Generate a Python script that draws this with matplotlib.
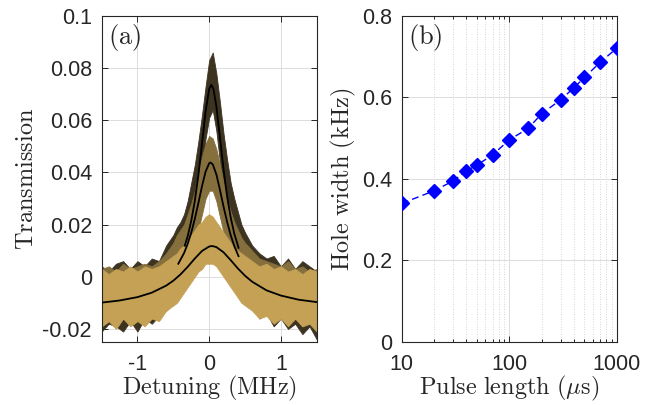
import matplotlib
matplotlib.use("Agg")
import matplotlib.pyplot as plt
from matplotlib.ticker import LogLocator, NullFormatter

plt.rcParams['font.family'] = ['Liberation Sans', 'DejaVu Sans']
plt.rcParams['mathtext.fontset'] = 'cm'

# ---- panel (a): transmission vs detuning ----
# envelope of each noisy trace, common detuning grid
det = [-1.5, -1.4, -1.3, -1.2, -1.1, -1.0, -0.9, -0.8, -0.7, -0.6, -0.5,
       -0.45, -0.4, -0.35, -0.3, -0.25, -0.2, -0.15, -0.1, -0.05, 0.0,
       0.05, 0.1, 0.15, 0.2, 0.25, 0.3, 0.35, 0.4, 0.45, 0.5,
       0.6, 0.7, 0.8, 0.9, 1.0, 1.1, 1.2, 1.3, 1.4, 1.5]

dark_hi = [0.004, 0.002, 0.005, 0.006, 0.003, 0.006, 0.004, 0.007, 0.006, 0.012, 0.016,
           0.019, 0.021, 0.024, 0.029, 0.036, 0.043, 0.052, 0.062, 0.073, 0.083,
           0.086, 0.078, 0.067, 0.055, 0.045, 0.036, 0.030, 0.025, 0.020, 0.017,
           0.012, 0.009, 0.007, 0.008, 0.004, 0.007, 0.003, 0.006, 0.004, 0.002]
dark_lo = [-0.021, -0.018, -0.019, -0.021, -0.017, -0.021, -0.016, -0.018, -0.015, -0.013, -0.010,
           -0.008, -0.005, 0.000, 0.006, 0.012, 0.019, 0.028, 0.040, 0.053, 0.061,
           0.064, 0.056, 0.044, 0.032, 0.022, 0.014, 0.008, 0.002, -0.003, -0.007,
           -0.011, -0.016, -0.014, -0.019, -0.016, -0.020, -0.018, -0.022, -0.019, -0.024]

mid_hi = [0.003, 0.004, 0.002, 0.005, 0.003, 0.004, 0.005, 0.004, 0.006, 0.009, 0.013,
          0.016, 0.018, 0.020, 0.024, 0.028, 0.033, 0.040, 0.046, 0.051, 0.054,
          0.053, 0.049, 0.043, 0.036, 0.030, 0.025, 0.021, 0.018, 0.015, 0.013,
          0.010, 0.007, 0.006, 0.005, 0.004, 0.006, 0.003, 0.004, 0.002, 0.003]
mid_lo = [-0.019, -0.017, -0.018, -0.016, -0.018, -0.015, -0.017, -0.014, -0.015, -0.012, -0.009,
          -0.006, -0.003, 0.000, 0.004, 0.008, 0.013, 0.018, 0.024, 0.030, 0.033,
          0.033, 0.029, 0.023, 0.017, 0.012, 0.007, 0.003, 0.000, -0.003, -0.006,
          -0.010, -0.013, -0.014, -0.016, -0.015, -0.018, -0.016, -0.019, -0.017, -0.020]

light_hi = [0.003, 0.001, 0.003, 0.002, 0.004, 0.002, 0.004, 0.003, 0.004, 0.006, 0.008,
            0.009, 0.011, 0.012, 0.014, 0.016, 0.018, 0.020, 0.021, 0.023, 0.024,
            0.023, 0.021, 0.019, 0.017, 0.015, 0.013, 0.011, 0.010, 0.009, 0.008,
            0.006, 0.004, 0.005, 0.003, 0.004, 0.002, 0.003, 0.001, 0.003, 0.002]
light_lo = [-0.019, -0.017, -0.020, -0.016, -0.019, -0.017, -0.019, -0.016, -0.017, -0.013, -0.011,
            -0.010, -0.008, -0.006, -0.004, -0.002, 0.000, 0.002, 0.003, 0.005, 0.005,
            0.005, 0.004, 0.002, 0.000, -0.002, -0.004, -0.006, -0.008, -0.010, -0.011,
            -0.013, -0.016, -0.015, -0.018, -0.016, -0.019, -0.016, -0.019, -0.018, -0.021]

# Lorentzian fit curves
fit_dark_x = [-0.34, -0.3, -0.25, -0.2, -0.15, -0.1, -0.05, 0.0, 0.03, 0.06,
              0.1, 0.15, 0.2, 0.25, 0.3, 0.35, 0.41]
fit_dark_y = [0.0119, 0.0155, 0.0214, 0.0291, 0.0390, 0.0510, 0.0633, 0.0720, 0.0736, 0.0720,
              0.0654, 0.0535, 0.0413, 0.0309, 0.0228, 0.0166, 0.0111]
fit_mid_x = [-0.43, -0.35, -0.3, -0.25, -0.2, -0.15, -0.1, -0.05, 0.0, 0.02,
             0.05, 0.1, 0.15, 0.2, 0.25, 0.3, 0.35, 0.41]
fit_mid_y = [0.0050, 0.0091, 0.0126, 0.0169, 0.0222, 0.0283, 0.0347, 0.0403, 0.0435, 0.0438,
             0.0431, 0.0393, 0.0334, 0.0270, 0.0211, 0.0160, 0.0118, 0.0079]
fit_light_x = [-1.5, -1.25, -1.0, -0.8, -0.6, -0.5, -0.4, -0.3, -0.2, -0.1, 0.0, 0.04,
               0.1, 0.2, 0.3, 0.4, 0.5, 0.6, 0.8, 1.0, 1.25, 1.5]
fit_light_y = [-0.0099, -0.0091, -0.0078, -0.0061, -0.0034, -0.0015, 0.0009, 0.0038, 0.0070, 0.0099, 0.0116, 0.0118,
               0.0114, 0.0094, 0.0064, 0.0032, 0.0004, -0.0019, -0.0052, -0.0072, -0.0088, -0.0097]

a_yticks = [-0.02, 0, 0.02, 0.04, 0.06, 0.08, 0.1]
a_yticklabels = ['-0.02', '0', '0.02', '0.04', '0.06', '0.08', '0.1']
a_xticks = [-1, 0, 1]
a_xticklabels = ['-1', '0', '1']

# ---- panel (b): hole width vs pulse length ----
pulse_us = [10, 20, 30, 40, 50, 70, 100, 150, 200, 300, 400, 500, 700, 1000]
width_khz = [0.340, 0.371, 0.395, 0.420, 0.434, 0.459, 0.496, 0.524, 0.560,
             0.594, 0.624, 0.649, 0.686, 0.721]
b_yticks = [0, 0.2, 0.4, 0.6, 0.8]
b_yticklabels = ['0', '0.2', '0.4', '0.6', '0.8']
b_xticks = [10, 100, 1000]
b_xticklabels = ['10', '100', '1000']

traces = [(dark_lo, dark_hi, '#3d3321'),
          (mid_lo, mid_hi, '#85703d'),
          (light_lo, light_hi, '#c4a155')]

axcol = '#262626'
fig = plt.figure(figsize=(6.53, 4.05), dpi=100)
ax1 = fig.add_axes([0.1556, 0.1556, 0.3294, 0.805])
ax2 = fig.add_axes([0.6152, 0.1556, 0.3293, 0.805])

for lo, hi, c in traces:
    ax1.fill_between(det, lo, hi, color=c, lw=0.6, edgecolor=c, zorder=2)
ax1.plot(fit_dark_x, fit_dark_y, color='k', lw=1.3, zorder=3)
ax1.plot(fit_mid_x, fit_mid_y, color='k', lw=1.3, zorder=3)
ax1.plot(fit_light_x, fit_light_y, color='k', lw=1.3, zorder=3)
ax1.set_xlim(-1.5, 1.5)
ax1.set_ylim(-0.025, 0.1)
ax1.set_xticks(a_xticks)
ax1.set_xticklabels(a_xticklabels)
ax1.set_yticks(a_yticks)
ax1.set_yticklabels(a_yticklabels)
ax1.set_xlabel(r'$\mathrm{Detuning\ (MHz)}$', fontsize=17.5, color=axcol, labelpad=-1)
ax1.set_ylabel(r'$\mathrm{Transmission}$', fontsize=17.5, color=axcol, labelpad=3)
ax1.text(0.03, 0.935, r'$\mathrm{(a)}$', transform=ax1.transAxes, fontsize=19,
         va='center', ha='left', color=axcol)

ax2.plot(pulse_us, width_khz, ls='--', color='blue', lw=1.0, marker='D',
         ms=7, mfc='blue', mec='blue', zorder=3, dashes=(5, 3))
ax2.set_xscale('log')
ax2.set_xlim(10, 1000)
ax2.set_ylim(0, 0.8)
ax2.xaxis.set_minor_locator(LogLocator(base=10, subs=range(2, 10)))
ax2.xaxis.set_minor_formatter(NullFormatter())
ax2.set_xticks(b_xticks)
ax2.set_xticklabels(b_xticklabels)
ax2.set_yticks(b_yticks)
ax2.set_yticklabels(b_yticklabels)
ax2.grid(True, which='minor', axis='x', color='#c8c8c8', lw=0.6, ls=(0, (1, 2)))
ax2.set_xlabel(r'$\mathrm{Pulse\ length\ (}\mu\mathrm{s)}$', fontsize=17.5, color=axcol, labelpad=-1)
ax2.set_ylabel(r'$\mathrm{Hole\ width\ (kHz)}$', fontsize=17.5, color=axcol, labelpad=3)
ax2.text(0.03, 0.935, r'$\mathrm{(b)}$', transform=ax2.transAxes, fontsize=19,
         va='center', ha='left', color=axcol)

for ax in (ax1, ax2):
    ax.grid(True, which='major', color='#dcdcdc', lw=0.7)
    ax.set_axisbelow(True)
    ax.tick_params(which='both', direction='in', top=True, right=True,
                   labelsize=15.5, colors=axcol, length=4, width=0.7)
    ax.tick_params(axis='x', which='major', pad=9)
    ax.tick_params(axis='y', which='major', pad=7)
    ax.tick_params(which='minor', length=2)
    for s in ax.spines.values():
        s.set_color(axcol)
        s.set_linewidth(0.8)

fig.savefig('out.png', dpi=100)
